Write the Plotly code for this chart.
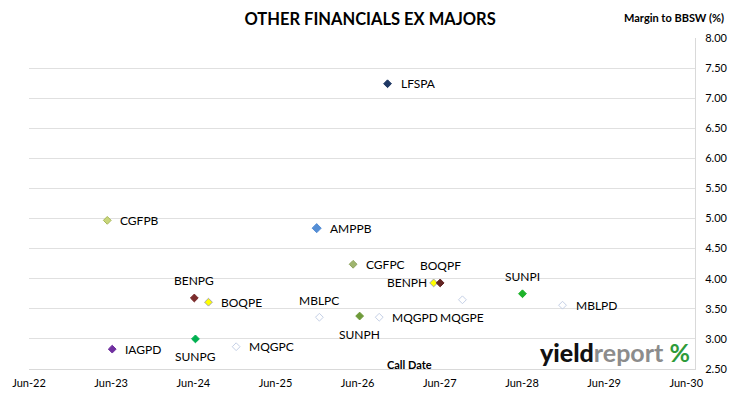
import plotly.graph_objects as go

# ---- data ----
codes = ["LFSPA", "CGFPB", "AMPPB", "CGFPC", "BENPH", "BOQPF", "SUNPI", "MBLPD",
         "MQGPE", "MBLPC", "SUNPH", "MQGPD", "BENPG", "BOQPE", "SUNPG", "MQGPC", "IAGPD"]
call_dates = ["2026-10-12", "2023-05-15", "2025-12-01", "2026-05-12", "2027-05-05",
              "2027-06-03", "2028-06-03", "2028-11-28", "2027-09-10", "2025-12-13",
              "2026-06-10", "2026-09-05", "2024-06-05", "2024-08-07", "2024-06-10",
              "2024-12-08", "2023-06-06"]
margins = [7.24, 4.97, 4.84, 4.24, 3.93, 3.93, 3.75, 3.56,
           3.65, 3.36, 3.38, 3.36, 3.68, 3.61, 3.00, 2.87, 2.83]

# ---- styles ----
colors = ["#1F3864", "#C9D67A", "#558ED5", "#9FB56E", "#FFFF00", "#632523", "#1DB32A",
          "#C5D0E6", "#C5D0E6", "#C5D0E6", "#6E9A3A", "#C5D0E6", "#7B2C2C", "#FFFF00",
          "#00B050", "#C5D0E6", "#7030A0"]
symbols = ["diamond"] * 7 + ["diamond-open", "diamond-open", "diamond-open", "diamond",
                             "diamond-open", "diamond", "diamond", "diamond", "diamond-open",
                             "diamond"]
sizes = [6, 6, 7, 6, 6, 6, 6, 6, 6, 6, 6, 6, 6, 6, 6, 6, 6]
line_colors = ["#1F3864", "#A8B85A", "#558ED5", "#8DA35C", "#A6A6A6", "#632523", "#1DB32A",
               "#C5D0E6", "#C5D0E6", "#C5D0E6", "#6E9A3A", "#C5D0E6", "#7B2C2C", "#A6A6A6",
               "#00B050", "#C5D0E6", "#7030A0"]
label_sides = ["right", "right", "right", "right", "left", "top", "top", "right",
               "bottom", "top", "bottom", "right", "top", "right", "bottom", "right", "right"]

font = "Lato, 'Liberation Sans', sans-serif"

fig = go.Figure()
fig.add_trace(go.Scatter(
    x=call_dates, y=margins, mode="markers", text=codes,
    marker=dict(symbol=symbols, size=sizes, color=colors, opacity=1,
                line=dict(color=line_colors, width=1)),
    cliponaxis=False, showlegend=False, hoverinfo="x+y+text",
))

side_style = {
    "right": dict(xanchor="left", yanchor="middle", xshift=11, yshift=0),
    "left": dict(xanchor="right", yanchor="middle", xshift=-5, yshift=0),
    "top": dict(xanchor="center", yanchor="middle", xshift=0, yshift=17),
    "bottom": dict(xanchor="center", yanchor="middle", xshift=0, yshift=-18),
}
label_annotations = []
for c, d, m, s in zip(codes, call_dates, margins, label_sides):
    label_annotations.append(dict(text=c, x=d, y=m, xref="x", yref="y", showarrow=False,
                                  font=dict(family=font, size=12, color="#000000"),
                                  **side_style[s]))

fig.update_layout(
    width=730, height=399,
    margin=dict(l=29, r=35, t=38, b=30, autoexpand=False),
    paper_bgcolor="white", plot_bgcolor="white",
    font=dict(family=font, size=11, color="#000000"),
    title=dict(text="<b>OTHER FINANCIALS EX MAJORS</b>", x=0.507, xanchor="center",
               y=0.953, yanchor="middle", font=dict(family=font, size=16.5, color="#000000")),
    xaxis=dict(type="date", range=["2022-06-01", "2030-07-10"],
               tick0="2022-06-01", dtick="M12", tickformat="%b-%y",
               showgrid=False, zeroline=False, showline=True, linecolor="#D9D9D9",
               ticks="", tickfont=dict(family=font, size=11, color="#000000"),
               ticklabelstandoff=4, automargin=False),
    yaxis=dict(side="right", range=[2.5, 8.0], tick0=2.5, dtick=0.5, tickformat=".2f",
               showgrid=True, gridcolor="#E0E0E0", gridwidth=1, zeroline=False,
               showline=True, linecolor="#D9D9D9", ticks="",
               tickfont=dict(family=font, size=11, color="#000000"), ticklabelstandoff=7,
               automargin=False),
    annotations=label_annotations + [
        dict(text="<b>Margin to BBSW (%)</b>", x=1.0, xref="paper", xanchor="right",
             xshift=31, y=1, yref="paper", yanchor="bottom", yshift=12, showarrow=False,
             font=dict(family=font, size=11, color="#000000")),
        dict(text="<b>Call Date</b>", x=0.572, xref="paper", xanchor="center",
             y=0, yref="paper", yanchor="bottom", yshift=-4, showarrow=False,
             font=dict(family=font, size=11, color="#000000")),
        dict(text="<span style='color:#111111;font-weight:900'>yield</span>"
                  "<b><span style='color:#8C8C8C'>report</span> "
                  "<span style='color:#2E9B3A'>%</span></b>",
             x=0.995, xref="paper", xanchor="right", y=0.0, yref="paper", yanchor="bottom",
             showarrow=False, font=dict(family=font, size=25)),
    ],
)

fig.write_html("out.html", config={"displayModeBar": False},
               post_script="document.body.style.margin='0';")
